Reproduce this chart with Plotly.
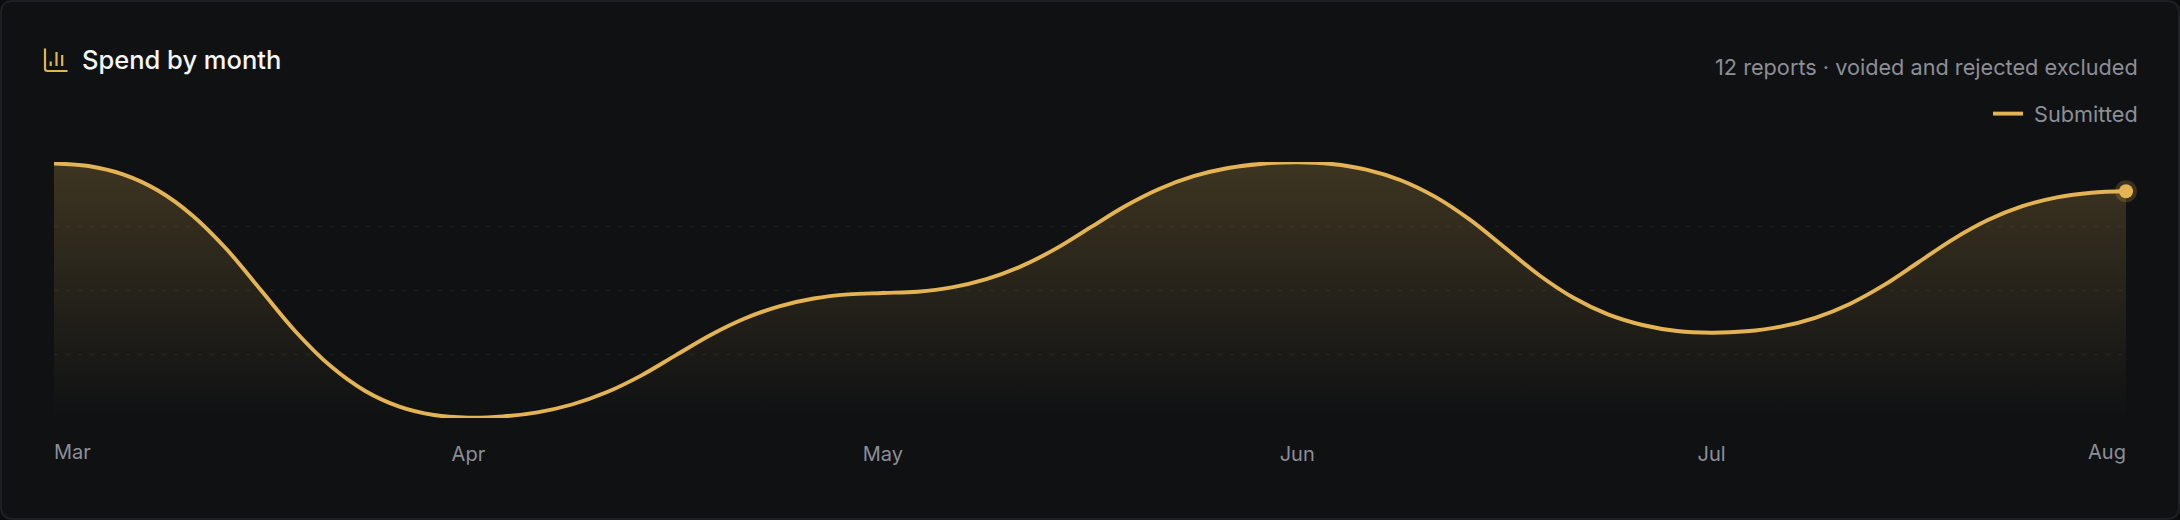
import plotly.graph_objects as go

# Chart content. Values are in relative units (no y scale is printed).
MONTHS = ["Mar", "Apr", "May", "Jun", "Jul", "Aug"]
MONTH_SAMPLE = [0, 12, 24, 36, 48, 60]          # sample index at which each month falls
SAMPLES = list(range(61))
SUBMITTED = [
    254.5, 252.0, 243.6, 227.7, 202.8, 168.7, 127.5, 86.3, 52.2, 27.3, 11.4, 3.0,
    0.4, 1.6, 5.7, 13.5, 25.7, 42.4, 62.6, 82.8, 99.5, 111.7, 119.5, 123.6,
    125.0, 126.3, 130.6, 138.8, 151.6, 169.1, 190.3, 211.5, 229.0, 241.8, 250.0, 254.3,
    255.7, 254.0, 248.4, 237.8, 221.1, 198.3, 170.7, 143.0, 120.2, 103.6, 93.0, 87.0,
    85.3, 86.7, 91.4, 100.2, 114.1, 133.1, 156.0, 178.9, 197.9, 211.8, 220.6, 225.3,
    226.7,
]
GRID_VALUES = [64, 128, 192]
TITLE = "Spend by month"
SUBTITLE = "12 reports · voided and rejected excluded"
SERIES_NAME = "\u00a0Submitted"

# Style
W, H = 2180, 520
L, R, T, B = 54, 2126, 162, 418
BG = "#0f1113"
OUTSIDE = "#0b0c0e"
BORDER = "#1d1f22"
GOLD = "#e4b454"
MUTED = "#8c8f96"
FONT = "Inter"


def fx(px):
    return (px - L) / (R - L)


def fy(py):
    return (B - py) / (B - T)


card_r = 12
card = (
    f"M{fx(1 + card_r):.5f},{fy(1):.5f} L{fx(W - 1 - card_r):.5f},{fy(1):.5f} "
    f"Q{fx(W - 1):.5f},{fy(1):.5f} {fx(W - 1):.5f},{fy(1 + card_r):.5f} "
    f"L{fx(W - 1):.5f},{fy(H - 1 - card_r):.5f} "
    f"Q{fx(W - 1):.5f},{fy(H - 1):.5f} {fx(W - 1 - card_r):.5f},{fy(H - 1):.5f} "
    f"L{fx(1 + card_r):.5f},{fy(H - 1):.5f} "
    f"Q{fx(1):.5f},{fy(H - 1):.5f} {fx(1):.5f},{fy(H - 1 - card_r):.5f} "
    f"L{fx(1):.5f},{fy(1 + card_r):.5f} "
    f"Q{fx(1):.5f},{fy(1):.5f} {fx(1 + card_r):.5f},{fy(1):.5f} Z"
)

icon_axis = (
    f"M{fx(45):.5f},{fy(48.5):.5f} L{fx(45):.5f},{fy(68.5):.5f} "
    f"Q{fx(45):.5f},{fy(71):.5f} {fx(47.5):.5f},{fy(71):.5f} L{fx(67.5):.5f},{fy(71):.5f}"
)
icon_bars = [(50.7, 61.5), (56.5, 52), (62.2, 55)]

shapes = [
    dict(type="path", xref="paper", yref="paper", path=card, fillcolor=BG,
         line=dict(color=BORDER, width=2), layer="below"),
    dict(type="path", xref="paper", yref="paper", path=icon_axis,
         line=dict(color=GOLD, width=2.2)),
]
for bx, top in icon_bars:
    shapes.append(dict(type="line", xref="paper", yref="paper", x0=fx(bx), x1=fx(bx),
                       y0=fy(top), y1=fy(66), line=dict(color=GOLD, width=2.2)))

annotations = [
    dict(text=SUBTITLE, xref="paper", yref="paper", x=fx(2139.5), y=fy(66.5),
         xanchor="right", yanchor="middle", showarrow=False,
         font=dict(family=FONT, size=21.7, color=MUTED)),
    dict(text=MONTHS[0], xref="x", yref="paper", x=MONTH_SAMPLE[0], y=fy(452),
         xanchor="left", yanchor="middle", showarrow=False, xshift=-2,
         font=dict(family=FONT, size=20, color=MUTED)),
    dict(text=MONTHS[-1], xref="x", yref="paper", x=MONTH_SAMPLE[-1], y=fy(452),
         xanchor="right", yanchor="middle", showarrow=False, xshift=2,
         font=dict(family=FONT, size=20, color=MUTED)),
]

fig = go.Figure()
fig.add_trace(go.Scatter(
    x=SAMPLES, y=SUBMITTED, mode="lines", fill="tozeroy", showlegend=False,
    hoverinfo="skip", line=dict(width=0, shape="spline", smoothing=1, color="rgba(0,0,0,0)"),
    fillgradient=dict(type="vertical", start=0, stop=256,
                      colorscale=[[0, "rgba(228,180,84,0)"], [1, "rgba(228,180,84,0.22)"]]),
))
fig.add_trace(go.Scatter(
    x=SAMPLES, y=SUBMITTED, mode="lines", name=SERIES_NAME, cliponaxis=False,
    line=dict(color=GOLD, width=3.9, shape="spline", smoothing=1),
))
fig.add_trace(go.Scatter(
    x=SAMPLES[-1:], y=SUBMITTED[-1:], mode="markers", showlegend=False, cliponaxis=False,
    marker=dict(size=22, color="rgba(228,180,84,0.2)", line=dict(width=0)),
))
fig.add_trace(go.Scatter(
    x=SAMPLES[-1:], y=SUBMITTED[-1:], mode="markers", showlegend=False, cliponaxis=False,
    marker=dict(size=14, color=GOLD, line=dict(width=0)),
))

fig.update_layout(
    width=W, height=H,
    margin=dict(l=L, r=W - R, t=T, b=H - B, pad=0),
    paper_bgcolor=OUTSIDE, plot_bgcolor="rgba(0,0,0,0)",
    font=dict(family=FONT, color=MUTED),
    title=dict(text=TITLE, xref="container", yref="container", x=82 / W, y=1 - 60 / H,
               xanchor="left", yanchor="middle", pad=dict(l=0, r=0, t=0, b=0),
               font=dict(family=FONT, size=25.5, color="#f4f5f6", weight=500)),
    showlegend=True,
    legend=dict(xref="paper", yref="paper", x=fx(2143), y=fy(93), xanchor="right",
                yanchor="top", bgcolor="rgba(0,0,0,0)", borderwidth=0,
                font=dict(family=FONT, size=21.7, color=MUTED)),
    xaxis=dict(range=[SAMPLES[0], SAMPLES[-1]], showline=False, zeroline=False, showgrid=False,
               tickmode="array", tickvals=MONTH_SAMPLE[1:-1], ticktext=MONTHS[1:-1],
               ticks="outside", ticklen=18, tickwidth=0, tickcolor="rgba(0,0,0,0)",
               tickfont=dict(family=FONT, size=20, color=MUTED)),
    yaxis=dict(range=[0, 256], showline=False, zeroline=False, showticklabels=False,
               tickmode="array", tickvals=GRID_VALUES, ticks="",
               showgrid=True, gridcolor="rgba(255,255,255,0.05)", griddash="4px,8px", gridwidth=1.4),
    shapes=shapes,
    annotations=annotations,
    hovermode=False,
)

fig.write_html("out.html", config={"displayModeBar": False},
               post_script="document.body.style.margin='0';document.body.style.background='" + OUTSIDE + "';")
